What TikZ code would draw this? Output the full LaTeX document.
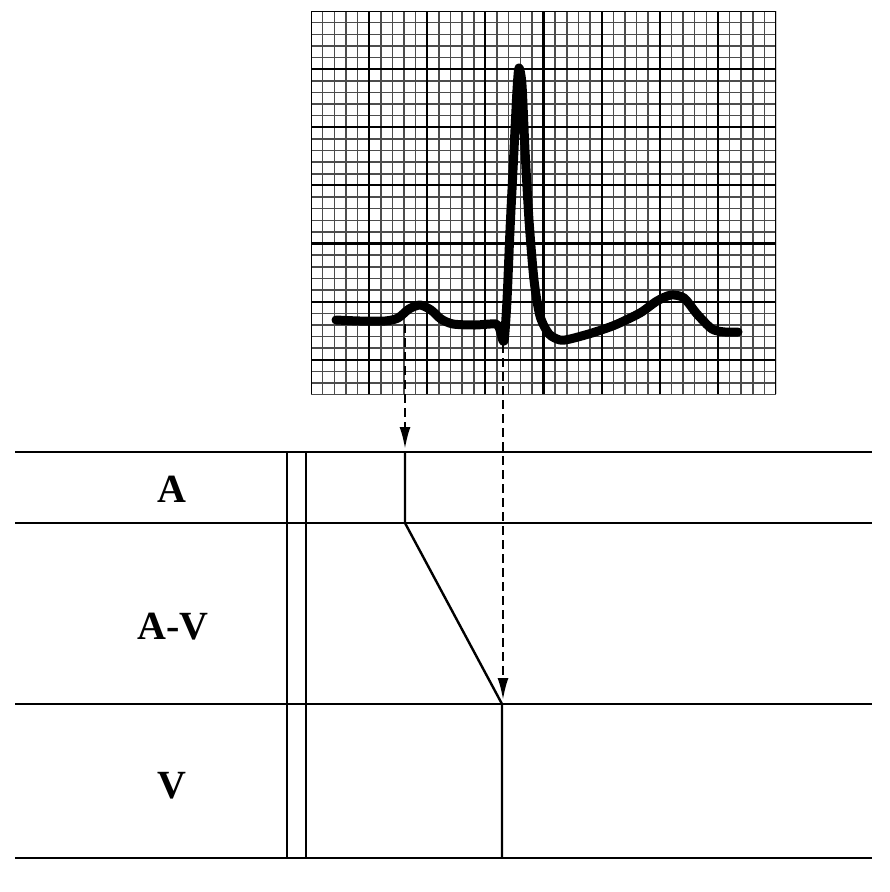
\documentclass[tikz,border=0pt]{standalone}
\usepackage{fontspec}
\setmainfont{Liberation Serif}
\usetikzlibrary{arrows.meta}
\begin{document}
\begin{tikzpicture}[x=1pt,y=-1pt,
  minorline/.style={black!70,line width=1.5pt},
  majorline/.style={black,line width=2.2pt},
  trace/.style={black,line width=9pt,line cap=round,line join=round},
  rowline/.style={black,line width=2.4pt},
  ladder/.style={black,line width=2.4pt},
  dasharrow/.style={black,line width=2.4pt,dash pattern=on 9pt off 5pt,-{Latex[length=22pt,width=11pt]}},
  lbl/.style={font=\fontsize{40}{40}\selectfont\bfseries,inner sep=0pt}]
\useasboundingbox (0,0) rectangle (890,892);
% ECG paper grid
\begin{scope}
\clip (311,11) rectangle (776,394);
\foreach \i in {0,...,40}{
  \pgfmathsetmacro\xx{311+\i*11.625}
  \draw[minorline] (\xx,11) -- (\xx,394);
}
\foreach \j in {0,...,33}{
  \pgfmathsetmacro\yy{11+\j*11.625}
  \draw[minorline] (311,\yy) -- (776,\yy);
}
\foreach \i in {0,5,...,40}{
  \pgfmathsetmacro\xx{311+\i*11.625}
  \draw[majorline] (\xx,11) -- (\xx,394);
}
\foreach \j in {0,5,...,30}{
  \pgfmathsetmacro\yy{11+\j*11.625}
  \draw[majorline] (311,\yy) -- (776,\yy);
}
\end{scope}
% ECG trace
\draw[trace] plot[smooth,tension=0.45] coordinates {
 (336,320) (360,321) (385,321) (398,318) (409,309) (420,305) (431,310)
 (441,319) (453,324) (475,325) (496,324) (500,330) (504,341)
 (507,300) (510,230) (514,150) (517,90) (519,68) (522,85) (525,150)
 (529,220) (534,280) (540,316) (549,334) (560,340) (570,339)
 (592,333) (615,325) (640,313) (657,301) (671,295) (684,298)
 (697,314) (712,329) (725,332) (738,332)};
% ladder diagram
\coordinate (L1) at (15,452);  \coordinate (R1) at (872,452);
\coordinate (L2) at (15,523);  \coordinate (R2) at (872,523);
\coordinate (L3) at (15,704);  \coordinate (R3) at (872,704);
\coordinate (L4) at (15,858);  \coordinate (R4) at (872,858);
\draw[rowline] (L1) -- (R1);
\draw[rowline] (L2) -- (R2);
\draw[rowline] (L3) -- (R3);
\draw[rowline] (L4) -- (R4);
\coordinate (D1t) at (287,452); \coordinate (D1b) at (287,858);
\coordinate (D2t) at (306,452); \coordinate (D2b) at (306,858);
\draw[rowline] (D1t) -- (D1b);
\draw[rowline] (D2t) -- (D2b);
\node[lbl] (A) at (172,489) {A};
\node[lbl] (AV) at (173,627) {A-V};
\node[lbl] (V) at (172,786) {V};
% conduction path
\coordinate (a1) at (405,452);
\coordinate (a2) at (405,523);
\coordinate (v1) at (502,704);
\coordinate (v2) at (502,858);
\draw[ladder,line join=round] (a1) -- (a2) -- (v1) -- (v2);
% dashed arrows
\coordinate (p0) at (405,324);
\coordinate (p1) at (405,449);
\coordinate (q0) at (503,344);
\coordinate (q1) at (503,700);
\draw[dasharrow] (p0) -- (p1);
\draw[dasharrow] (q0) -- (q1);
\end{tikzpicture}
\end{document}
